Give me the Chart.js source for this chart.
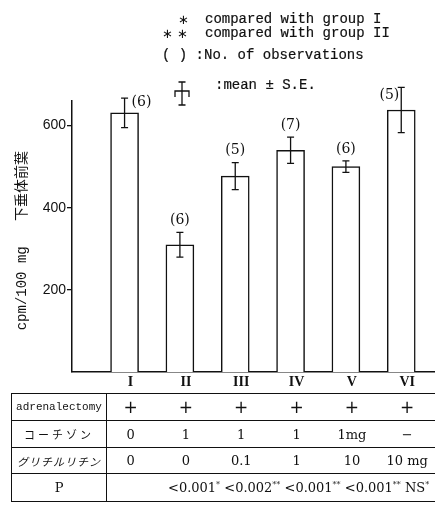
<!DOCTYPE html>
<html>
<head>
<meta charset="utf-8">
<script src="https://cdn.jsdelivr.net/npm/chart.js@4.4.0/dist/chart.umd.min.js"></script>
<style>
  body { margin: 0; background: #fff; }
  #wrap { position: relative; width: 435px; height: 505px; overflow: hidden; }
  #chart { position: absolute; left: 0; top: 0; }
  .note { position: absolute; font: 14px 'Liberation Mono', monospace; line-height: 14px; color: #111;
          white-space: nowrap; -webkit-text-stroke: 0.2px #111; }
  .star { font: 13px 'DejaVu Sans', sans-serif; line-height: 14px; -webkit-text-stroke: 0; }
  #table { position: absolute; left: 11px; top: 393px; width: 440px; height: 112px; }
  .row { position: absolute; left: 0; width: 440px; border-top: 1.5px solid #111; box-sizing: border-box; }
  .head { position: absolute; left: 0; top: 0; bottom: 0; width: 96px; box-sizing: border-box;
          border-left: 1.5px solid #111; border-right: 1.5px solid #111;
          display: flex; align-items: center; justify-content: center; color: #111; }
  .cell { position: absolute; top: 0; bottom: 0; display: flex; align-items: center;
          transform: translateX(-50%); font: 13px 'DejaVu Serif', serif; color: #111; white-space: nowrap; }
  .plus { font: 17px 'DejaVu Sans', sans-serif; }
  .pline { position: absolute; top: 0; bottom: 0; display: flex; align-items: center;
           font: 13px 'DejaVu Serif', serif; color: #111; white-space: pre; }
  .pline sup { font-size: 8px; vertical-align: 5px; }
</style>
</head>
<body>
<div id="wrap">
  <canvas id="chart" width="435" height="505"></canvas>

  <div class="note star" style="left:178px;top:13px">∗</div>
  <div class="note" style="left:205px;top:12px">compared with group I</div>
  <div class="note star" style="left:162px;top:27px">∗ ∗</div>
  <div class="note" style="left:205px;top:26px">compared with group II</div>
  <div class="note" style="left:162px;top:48px">( ) :No. of observations</div>
  <div class="note" style="left:215px;top:78px">:mean ± S.E.</div>

  <div id="table"></div>
</div>
<script>
const groups = ['I', 'II', 'III', 'IV', 'V', 'VI'];
const means = [631, 310, 477, 540, 500, 638];
const errors = [36, 30, 33, 32, 14, 55];
const counts = [6, 6, 5, 7, 6, 5];
const yTicks = [200, 400, 600];

const adrenalectomy = ['+', '+', '+', '+', '+', '+'];
const cortisone = ['0', '1', '1', '1', '1mg', '−'];
const glycyrrhizin = ['0', '0', '0.1', '1', '10', '10 mg'];
const pValues = ['<0.001', '<0.002', '<0.001', '<0.001', 'NS'];
const pMarks = ['*', '**', '**', '**', '*'];

const ink = '#111';

// mean ± S.E. whiskers, (n) labels and the small key glyph next to "mean ± S.E."
const errorBars = {
    id: 'errorBars',
    afterDatasetsDraw(chart) {
        const {ctx, scales: {x, y}} = chart;
        ctx.save();
        ctx.strokeStyle = ink;
        ctx.fillStyle = ink;
        ctx.lineWidth = 1.3;
        ctx.font = "14px 'DejaVu Serif'";
        ctx.textBaseline = 'middle';
        means.forEach(function(m, i){
            const px = x.getPixelForValue(i + 1);
            const top = y.getPixelForValue(m + errors[i]);
            const bot = y.getPixelForValue(m - errors[i]);
            ctx.beginPath();
            ctx.moveTo(px, top); ctx.lineTo(px, bot);
            ctx.moveTo(px - 3.5, top); ctx.lineTo(px + 3.5, top);
            ctx.moveTo(px - 3.5, bot); ctx.lineTo(px + 3.5, bot);
            ctx.stroke();

            const label = '(' + counts[i] + ')';
            if (i === 0) {
                ctx.textAlign = 'left';
                ctx.fillText(label, px + 7, top + 4);
            } else if (i === means.length - 1) {
                ctx.textAlign = 'right';
                ctx.fillText(label, px - 2, top + 8);
            } else {
                ctx.textAlign = 'center';
                ctx.fillText(label, px, top - 12);
            }
        });

        // key glyph
        ctx.beginPath();
        ctx.moveTo(175, 97); ctx.lineTo(175, 91); ctx.lineTo(189, 91); ctx.lineTo(189, 97);
        ctx.moveTo(182, 82); ctx.lineTo(182, 105);
        ctx.moveTo(178.5, 82); ctx.lineTo(185.5, 82);
        ctx.moveTo(178.5, 105); ctx.lineTo(185.5, 105);
        ctx.stroke();
        ctx.restore();
    }
};

const ctx = document.getElementById('chart');
const chart = new Chart(ctx, {
    type: 'bar',
    data: {
        datasets: [{
            data: means.map(function(m, i){ return {x: i + 1, y: m}; }),
            backgroundColor: '#fff',
            borderColor: ink,
            borderWidth: 1.5,
            barThickness: 28,
        }]
    },
    options: {
        responsive: false,
        animation: false,
        devicePixelRatio: 1,
        layout: { padding: { top: 101, right: 0, bottom: 0, left: 0 } },
        plugins: { legend: { display: false }, tooltip: { enabled: false } },
        scales: {
            x: {
                type: 'linear',
                offset: false,
                min: 0.05,
                max: 6.61,
                afterBuildTicks: function(s){ s.ticks = groups.map(function(g, i){ return {value: i + 1}; }); },
                afterFit: function(s){ s.height = 133; },
                grid: { display: false, drawTicks: false },
                border: { color: ink, width: 1.5 },
                ticks: {
                    callback: function(v, i){ return groups[i]; },
                    labelOffset: 6,
                    padding: 2,
                    maxRotation: 0,
                    autoSkip: false,
                    color: ink,
                    font: { family: "'Liberation Serif'", size: 14, weight: 'bold' }
                }
            },
            y: {
                min: 0,
                max: 660,
                afterBuildTicks: function(s){ s.ticks = yTicks.map(function(v){ return {value: v}; }); },
                afterFit: function(s){ s.width = 72; },
                grid: { drawOnChartArea: false, tickLength: 5, color: ink, lineWidth: 1.3 },
                border: { color: ink, width: 1.5 },
                ticks: {
                    padding: 1,
                    color: ink,
                    font: { family: "'Liberation Sans'", size: 14 }
                },
                title: {
                    display: true,
                    text: 'cpm/100 mg   下垂体前葉 ',
                    color: ink,
                    padding: { top: 14, bottom: 0 },
                    font: { family: "'Liberation Mono', 'Noto Sans CJK JP'", size: 14 }
                }
            }
        }
    },
    plugins: [errorBars]
});

// condition table under the axis, columns follow the x scale
const table = document.getElementById('table');
const tableLeft = 11;
const colX = groups.map(function(g, i){ return chart.scales.x.getPixelForValue(i + 1) + 6 - tableLeft; });

const rows = [
    { head: 'adrenalectomy', font: "11px 'Liberation Mono'", cells: adrenalectomy, top: 0, h: 27 },
    { head: 'コーチゾン', font: "11px 'Noto Sans CJK JP'", spacing: '3px', cells: cortisone, top: 27, h: 27 },
    { head: 'グリチルリチン', font: "italic 11px 'Noto Sans CJK JP'", spacing: '1px', cells: glycyrrhizin, top: 54, h: 26 },
    { head: 'P', font: "13px 'DejaVu Serif'", cells: null, top: 80, h: 29 }
];

rows.forEach(function(r, ri){
    const row = document.createElement('div');
    row.className = 'row';
    row.style.top = r.top + 'px';
    row.style.height = r.h + 'px';
    if (ri === rows.length - 1) row.style.borderBottom = '1.5px solid ' + ink;

    const head = document.createElement('div');
    head.className = 'head';
    head.style.font = r.font;
    if (r.spacing) head.style.letterSpacing = r.spacing;
    head.textContent = r.head;
    row.appendChild(head);

    if (r.cells) {
        r.cells.forEach(function(c, i){
            const cell = document.createElement('div');
            cell.className = c === '+' ? 'cell plus' : 'cell';
            cell.style.left = colX[i] + 'px';
            cell.textContent = c;
            row.appendChild(cell);
        });
    } else {
        const line = document.createElement('div');
        line.className = 'pline';
        line.style.left = (168 - tableLeft) + 'px';
        pValues.forEach(function(p, i){
            const span = document.createElement('span');
            span.textContent = (i > 0 ? ' ' : '') + p;
            const sup = document.createElement('sup');
            sup.textContent = pMarks[i];
            span.appendChild(sup);
            line.appendChild(span);
        });
        row.appendChild(line);
    }
    table.appendChild(row);
});
</script>
</body>
</html>
